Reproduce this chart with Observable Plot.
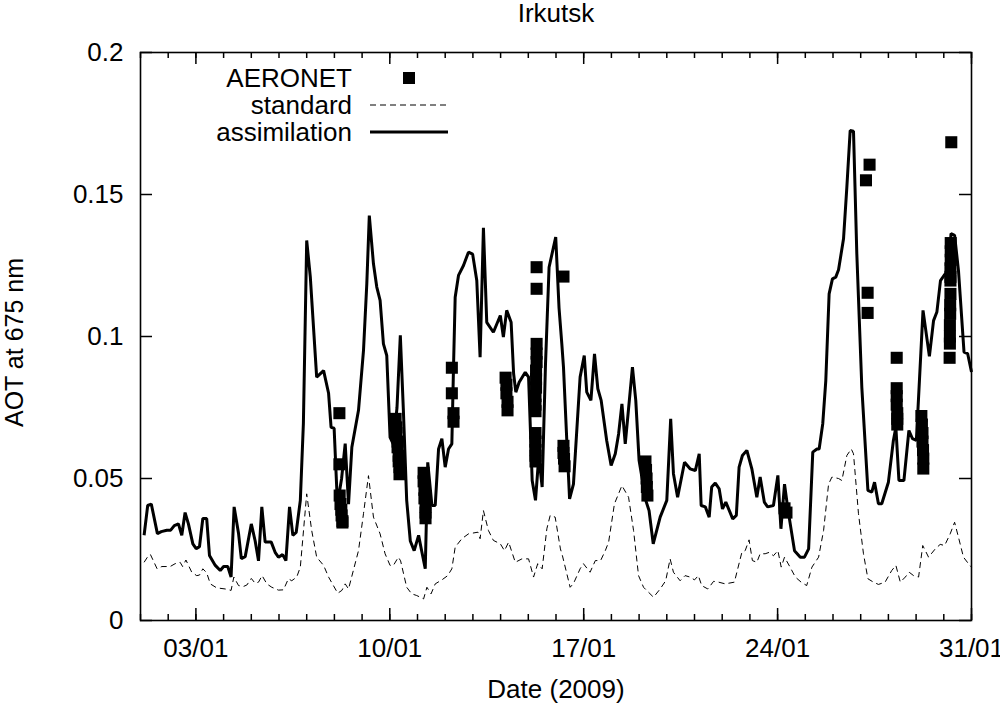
<!DOCTYPE html>
<html>
<head>
<meta charset="utf-8">
<script src="https://cdn.jsdelivr.net/npm/d3@7"></script>
<script src="https://cdn.jsdelivr.net/npm/@observablehq/plot@0.6"></script>
<style>
  html, body { margin: 0; padding: 0; background: #fff; }
  #wrap { position: relative; width: 1000px; height: 704px; font-family: "Liberation Sans", Arial, sans-serif; }
  #legend { position: absolute; left: 0; top: 0; }
</style>
</head>
<body>
<div id="wrap"></div>
<script>
// ---------- text ----------
const chartTitle = "Irkutsk";
const xLabel = "Date (2009)";
const yLabel = "AOT at 675 nm";
const legendLabels = ["AERONET", "standard", "assimilation"];

// ---------- ticks ----------
const xMajorDays = [3, 10, 17, 24, 31];          // day of January 2009
const xMinorDays = d3.range(1, 32);              // every day
const yTicks = [0, 0.05, 0.1, 0.15, 0.2];

// ---------- data: [day of January 2009 (decimal), AOT] ----------
const assimilation = [
  [1.13,.030],[1.26,.0405],[1.39,.041],[1.61,.0306],[1.75,.0313],[1.95,.0318],[2.09,.0318],[2.22,.0334],[2.37,.034],[2.49,.030],
  [2.61,.038],[2.73,.034],[2.89,.027],[3.01,.0253],[3.13,.026],[3.25,.0359],[3.39,.0359],[3.49,.0229],[3.70,.0194],[3.88,.0176],
  [4.00,.019],[4.15,.019],[4.27,.0153],[4.38,.040],[4.54,.0306],[4.64,.0218],[4.78,.0225],[5.00,.034],[5.14,.028],[5.26,.021],
  [5.38,.040],[5.50,.0276],[5.72,.0276],[5.86,.024],[5.98,.0223],[6.13,.0232],[6.25,.0211],[6.38,.040],[6.50,.030],[6.62,.031],
  [6.77,.0423],[6.88,.0693],[7.00,.1338],[7.13,.121],[7.36,.0857],[7.61,.088],[7.79,.080],[7.88,.068],[7.99,.0677],[8.11,.041],
  [8.26,.050],[8.39,.0623],[8.51,.041],[8.63,.061],[8.87,.074],[9.05,.095],[9.17,.1186],[9.26,.1426],[9.41,.1256],[9.53,.1174],
  [9.65,.1127],[9.77,.0974],[9.89,.0933],[10.01,.0645],[10.13,.062],[10.26,.075],[10.38,.1004],[10.49,.074],[10.61,.0423],[10.74,.028],
  [10.88,.0246],[11.04,.030],[11.14,.025],[11.28,.0182],[11.37,.0557],[11.52,.0405],[11.64,.0405],[11.76,.0604],[11.88,.064],[12.00,.054],
  [12.12,.0604],[12.24,.0622],[12.30,.0892],[12.36,.1138],[12.48,.1215],[12.66,.125],[12.84,.1297],[12.99,.129],[13.14,.1197],[13.26,.0927],
  [13.38,.1383],[13.50,.105],[13.74,.1015],[13.99,.1074],[14.10,.0998],[14.22,.1092],[14.38,.105],[14.47,.0869],[14.55,.0804],[14.67,.0839],
  [14.89,.0874],[15.01,.0857],[15.14,.0493],[15.26,.0423],[15.38,.058],[15.50,.047],[15.62,.090],[15.75,.1244],[15.99,.135],[16.11,.110],
  [16.21,.0974],[16.27,.0892],[16.39,.0634],[16.49,.0428],[16.63,.048],[16.87,.0857],[17.02,.0933],[17.11,.0804],[17.26,.0775],[17.39,.0939],
  [17.51,.0816],[17.63,.0775],[17.83,.0634],[17.99,.0546],[18.14,.0587],[18.26,.0657],[18.38,.0763],[18.50,.0622],[18.76,.0892],[18.88,.0775],
  [19.00,.0563],[19.24,.0423],[19.36,.0387],[19.51,.027],[19.76,.0364],[20.00,.0423],[20.14,.071],[20.24,.0517],[20.39,.0434],[20.64,.0557],
  [20.84,.0534],[21.03,.0528],[21.17,.0587],[21.24,.0405],[21.39,.040],[21.53,.0364],[21.62,.047],[21.75,.0484],[21.89,.0464],[22.01,.0393],
  [22.13,.0417],[22.38,.0358],[22.51,.037],[22.61,.054],[22.73,.0581],[22.89,.0599],[23.07,.0534],[23.25,.0434],[23.37,.0505],[23.52,.0417],
  [23.64,.040],[23.85,.0405],[24.01,.0511],[24.12,.0323],[24.25,.048],[24.37,.0393],[24.61,.0246],[24.82,.0223],[24.97,.0223],[25.12,.0252],
  [25.27,.0593],[25.42,.0604],[25.50,.0604],[25.63,.0693],[25.74,.0845],[25.86,.115],[25.98,.1203],[26.10,.1209],[26.20,.1235],[26.38,.1344],
  [26.50,.1526],[26.62,.1725],[26.74,.1723],[26.86,.1291],[27.04,.0822],[27.26,.0458],[27.40,.0452],[27.50,.0487],[27.64,.0411],[27.76,.0411],
  [28.00,.0487],[28.18,.0634],[28.27,.068],[28.38,.0493],[28.56,.0493],[28.74,.0669],[28.87,.064],[29.01,.0634],[29.25,.1092],[29.48,.093],
  [29.63,.1056],[29.75,.1086],[29.88,.1197],[30.03,.1218],[30.17,.1227],[30.26,.1362],[30.39,.1356],[30.53,.1232],[30.73,.0945],[30.86,.094],
  [31.00,.0875]
];

const standard = [
  [1.13,.0205],[1.29,.0229],[1.36,.0232],[1.60,.0182],[1.77,.019],[2.07,.019],[2.25,.020],[2.43,.0205],[2.52,.019],[2.64,.0213],
  [2.85,.017],[3.03,.0158],[3.13,.016],[3.25,.0182],[3.39,.0168],[3.52,.0129],[3.75,.0115],[4.06,.0111],[4.27,.0106],[4.37,.0153],
  [4.54,.0123],[4.72,.012],[4.84,.0125],[5.00,.0148],[5.14,.0131],[5.26,.0135],[5.39,.0158],[5.56,.0129],[5.74,.0117],[5.98,.0107],
  [6.16,.0108],[6.34,.0147],[6.46,.014],[6.64,.0153],[6.77,.0188],[7.00,.0446],[7.18,.0317],[7.36,.0223],[7.61,.0194],[7.79,.0153],
  [8.12,.0096],[8.27,.0106],[8.39,.0129],[8.51,.0111],[8.87,.0246],[9.05,.0376],[9.23,.051],[9.41,.0364],[9.65,.0305],[9.83,.0235],
  [10.01,.0194],[10.13,.0194],[10.31,.0223],[10.39,.021],[10.61,.0117],[10.79,.0094],[10.97,.0088],[11.10,.0082],[11.22,.0076],[11.34,.0117],
  [11.49,.0094],[11.64,.0129],[11.88,.0143],[12.09,.0158],[12.24,.0182],[12.36,.0258],[12.60,.0288],[12.84,.0305],[13.18,.0311],[13.26,.0288],
  [13.38,.0387],[13.56,.0317],[13.74,.0282],[13.99,.027],[14.14,.0246],[14.29,.0276],[14.53,.0205],[14.77,.0217],[15.01,.0217],[15.19,.0153],
  [15.34,.020],[15.50,.0182],[15.67,.0323],[15.79,.037],[15.97,.0364],[16.16,.0252],[16.23,.0229],[16.51,.0117],[16.63,.013],[16.87,.0182],
  [16.99,.020],[17.23,.017],[17.42,.0211],[17.61,.0211],[17.78,.0246],[17.90,.0276],[18.11,.0411],[18.38,.0475],[18.62,.0434],[18.80,.0317],
  [18.98,.0158],[19.16,.0117],[19.52,.0082],[19.76,.0111],[19.96,.014],[20.12,.0217],[20.24,.017],[20.48,.014],[20.66,.0158],[20.84,.0153],
  [21.00,.0143],[21.14,.0158],[21.26,.0123],[21.48,.0111],[21.69,.0138],[21.87,.0135],[22.11,.0129],[22.44,.0135],[22.71,.024],[22.83,.0246],
  [22.97,.0284],[23.09,.0211],[23.25,.0205],[23.37,.0235],[23.55,.0235],[23.70,.024],[23.85,.0228],[24.01,.0246],[24.13,.0188],[24.25,.0223],
  [24.45,.0188],[24.64,.0153],[24.85,.0135],[25.05,.0123],[25.24,.0188],[25.48,.0223],[25.66,.0317],[25.84,.048],[25.96,.0505],[26.20,.050],
  [26.32,.0493],[26.50,.0581],[26.66,.0604],[26.74,.0587],[26.92,.0376],[27.10,.0235],[27.26,.0147],[27.46,.0135],[27.64,.0127],[27.88,.0135],
  [28.12,.0176],[28.27,.0194],[28.43,.0135],[28.61,.0153],[28.75,.017],[28.91,.0158],[29.09,.0153],[29.24,.0264],[29.45,.0223],[29.69,.0252],
  [29.87,.0268],[30.03,.0264],[30.23,.0305],[30.39,.0346],[30.53,.0293],[30.71,.0223],[30.89,.020],[31.00,.0188]
];

const aeronet = [
  [8.18,.073],[8.18,.055],[8.19,.044],[8.22,.041],[8.25,.039],[8.26,.037],[8.29,.035],[8.29,.0345],
  [10.21,.071],[10.24,.068],[10.24,.066],[10.28,.063],[10.28,.061],[10.32,.058],[10.32,.056],[10.35,.054],[10.35,.0515],
  [11.22,.052],[11.22,.049],[11.25,.046],[11.25,.043],[11.29,.040],[11.29,.038],[11.29,.036],
  [12.24,.089],[12.24,.080],[12.30,.073],[12.30,.070],
  [14.18,.0855],[14.21,.083],[14.21,.080],[14.25,.077],[14.25,.074],
  [15.30,.1244],[15.30,.1168],[15.30,.0974],[15.30,.094],[15.30,.091],[15.28,.088],[15.28,.085],[15.28,.082],
  [15.26,.079],[15.26,.076],[15.26,.0737],[15.26,.066],[15.26,.063],[15.26,.060],[15.26,.058],[15.26,.056],
  [16.27,.1211],[16.27,.0615],[16.27,.059],[16.29,.057],[16.31,.0543],
  [19.23,.056],[19.25,.053],[19.27,.050],[19.28,.047],[19.30,.044],
  [24.25,.0395],[24.32,.038],
  [27.19,.155],[27.32,.1605],[27.25,.1154],[27.25,.1083],
  [28.30,.0925],[28.30,.0818],[28.30,.079],[28.30,.076],[28.32,.073],[28.32,.071],[28.32,.069],
  [29.19,.072],[29.21,.069],[29.23,.066],[29.23,.063],[29.25,.060],[29.26,.057],[29.26,.0535],
  [30.27,.1684],[30.25,.1329],[30.25,.130],[30.25,.127],[30.24,.124],[30.24,.121],[30.24,.1197],[30.24,.115],
  [30.23,.111],[30.23,.108],[30.22,.104],[30.22,.100],[30.22,.0975],[30.21,.0925]
];

// ---------- build ----------
const toDate = d => new Date(Date.UTC(2009, 0, 1) + (d - 1) * 864e5);
const rows = arr => arr.map(([d, v]) => ({date: toDate(d), aot: v}));

const W = 1000, H = 704, mT = 52, mL = 140, mR = 29, mB = 84;
const FW = W - mL - mR, FH = H - mT - mB;
const FONT = "Liberation Sans, Arial, sans-serif";
const FS = 26;

const majorDates = xMajorDays.map(toDate);
const minorDates = xMinorDays.map(toDate);

const chart = Plot.plot({
  width: W, height: H,
  marginTop: mT, marginLeft: mL, marginRight: mR, marginBottom: mB,
  style: {fontFamily: FONT, fontSize: FS + "px", color: "#000", background: "#fff", overflow: "visible"},
  x: {type: "utc", domain: [toDate(1), toDate(31)]},
  y: {type: "linear", domain: [0, 0.2]},
  marks: [
    Plot.axisX({ticks: majorDates, tickSize: 0, tickPadding: 18.5, tickFormat: d3.utcFormat("%d/%m"), label: null, fontSize: FS}),
    Plot.axisY({ticks: yTicks, tickSize: 0, tickPadding: 17, tickFormat: d => String(d), label: null, fontSize: FS}),
    // inward ticks (bottom/top minor, bottom/top major, left/right)
    Plot.tickX(minorDates, {x: d => d, insetTop: FH - 6, stroke: "#000", strokeWidth: 1.5}),
    Plot.tickX(minorDates, {x: d => d, insetBottom: FH - 6, stroke: "#000", strokeWidth: 1.5}),
    Plot.tickX(majorDates, {x: d => d, insetTop: FH - 12, stroke: "#000", strokeWidth: 1.5}),
    Plot.tickX(majorDates, {x: d => d, insetBottom: FH - 12, stroke: "#000", strokeWidth: 1.5}),
    Plot.tickY(yTicks, {y: d => d, insetRight: FW - 12, stroke: "#000", strokeWidth: 1.5}),
    Plot.tickY(yTicks, {y: d => d, insetLeft: FW - 12, stroke: "#000", strokeWidth: 1.5}),
    // series
    Plot.line(rows(standard), {x: "date", y: "aot", stroke: "#000", strokeWidth: 1, strokeDasharray: "6,4", strokeLinejoin: "miter", strokeLinecap: "butt"}),
    Plot.line(rows(assimilation), {x: "date", y: "aot", stroke: "#000", strokeWidth: 3, strokeLinejoin: "miter", strokeLinecap: "butt"}),
    Plot.dot(rows(aeronet), {x: "date", y: "aot", symbol: "square", r: 6.8, fill: "#000", stroke: null}),
    Plot.frame({stroke: "#000", strokeWidth: 1.6}),
    // title and axis labels
    Plot.text([chartTitle], {text: d => d, frameAnchor: "top", dy: -39, lineAnchor: "middle", textAnchor: "middle", fontSize: FS, fill: "#000"}),
    Plot.text([xLabel], {text: d => d, frameAnchor: "bottom", dy: 69, lineAnchor: "middle", textAnchor: "middle", fontSize: FS, fill: "#000"}),
    Plot.text([yLabel], {text: d => d, frameAnchor: "left", dx: -126, dy: 6, rotate: -90, lineAnchor: "middle", textAnchor: "middle", fontSize: 25, fill: "#000"})
  ]
});

const wrap = document.getElementById("wrap");
wrap.append(chart);

// ---------- legend (key box inside the frame, top-left) ----------
const lg = d3.select(wrap).append("svg").attr("id", "legend").attr("width", W).attr("height", 160)
  .style("font-family", FONT).style("font-size", FS + "px");
const textRight = 352, sampleX1 = 370, sampleX2 = 448, rowsY = [78, 105, 132];
lg.selectAll("text").data(legendLabels).join("text")
  .attr("x", textRight).attr("y", (d, i) => rowsY[i]).attr("dy", "0.36em")
  .attr("text-anchor", "end").attr("fill", "#000").text(d => d);
lg.append("rect").attr("x", 409 - 6).attr("y", rowsY[0] - 6).attr("width", 12).attr("height", 12).attr("fill", "#000");
lg.append("line").attr("x1", sampleX1).attr("x2", sampleX2).attr("y1", rowsY[1]).attr("y2", rowsY[1])
  .attr("stroke", "#000").attr("stroke-width", 1).attr("stroke-dasharray", "6,4");
lg.append("line").attr("x1", sampleX1).attr("x2", sampleX2).attr("y1", rowsY[2]).attr("y2", rowsY[2])
  .attr("stroke", "#000").attr("stroke-width", 3);
</script>
</body>
</html>
